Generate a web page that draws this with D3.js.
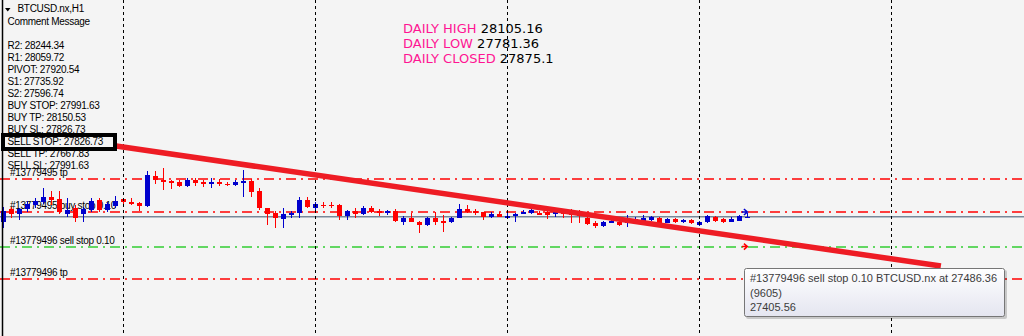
<!DOCTYPE html>
<html>
<head>
<meta charset="utf-8">
<script src="https://cdn.jsdelivr.net/npm/d3@7"></script>
<style>
    body { margin: 0; background: #f4f4f4; }
    svg { display: block; }
</style>
</head>
<body>
<svg width="1024" height="336"></svg>
<script>
// H1 candles (bar 0 = leftmost)
var opens  = [27806,27975,27910,27975,28027,28066,28131,28105,27910,27988,27910,27962,28092,27962,28014,28105,28066,28053,28014,28404,
              28352,28339,28326,28274,28352,28320,28313,28326,28304,28287,28320,28339,28209,27988,27923,27845,27897,27923,28092,27988,
              28031,28031,28027,27884,27949,27910,27988,27949,27923,27949,27806,27858,27806,27767,27858,27819,27806,27858,27975,27949,
              27936,27871,27910,27858,27884,27910,27923,27923,27936,27910,27949,27949,27936,27858,27793,27754,27793,27806,27793,27806,
              27819,27832,27858,27793,27845,27806,27832,27767,27806,27871,27845,27806,27819,27865];
var highs  = [28001,28001,27988,28079,28118,28248,28209,28209,28118,28027,28001,28118,28118,28066,28144,28118,28118,28066,28469,28469,
              28508,28346,28352,28378,28378,28352,28378,28365,28326,28352,28482,28365,28248,27994,27949,27988,27949,28131,28131,28066,
              28066,28066,28040,27962,27988,28014,28014,27975,27962,27975,27884,27923,27813,27871,27936,27897,27871,28040,28027,27975,
              27942,27936,27936,27962,27917,27962,28001,27949,27949,27949,27975,27975,27962,27910,27819,27819,27845,27832,27897,27871,
              27897,27878,27871,27858,27858,27845,27845,27819,27897,27884,27858,27871,27897,27923];
var lows   = [27728,27858,27832,27936,27988,28040,28027,27910,27871,27806,27806,27936,27936,27936,27988,28040,28027,27949,28001,28300,
              28222,28235,28261,28261,28274,28261,28248,28274,28274,28274,28131,28131,27962,27767,27728,27728,27858,27858,27988,27949,
              27988,27988,27832,27832,27858,27897,27923,27884,27897,27806,27767,27800,27663,27760,27767,27676,27793,27852,27923,27897,
              27832,27858,27865,27852,27806,27904,27910,27910,27845,27871,27858,27793,27793,27767,27728,27741,27787,27754,27741,27793,
              27806,27819,27787,27787,27793,27793,27780,27754,27793,27806,27793,27806,27819,27852];
var closes = [27949,27910,27975,28040,28079,28131,28092,27936,27962,27858,27975,28079,27962,28040,28079,28066,28046,28014,28417,28352,
              28332,28320,28274,28352,28313,28313,28326,28294,28296,28326,28339,28196,27988,27910,27858,27910,27923,28092,28001,28040,
              28023,28023,27884,27949,27910,27988,27936,27917,27949,27819,27858,27806,27767,27858,27806,27793,27858,27975,27936,27923,
              27871,27910,27871,27884,27910,27936,27962,27912,27897,27936,27910,27897,27884,27780,27754,27806,27819,27767,27819,27845,
              27858,27865,27793,27845,27806,27832,27793,27806,27884,27819,27806,27845,27884,27875];

// day separators (bar index where a new day starts)
var dayStarts = [15, 39, 63, 87, 111];

// order / price levels
var levelPrices = [28369, 27936, 27486.36, 27065];
var levelLabels = ['#13779495 tp', '#13779495 buy stop 0.10', '#13779496 sell stop 0.10', '#13779496 tp'];
var levelColors = ['#ff0000', '#ff0000', '#32cd32', '#ff0000'];
var bidPrice = 27875.1;

// order arrows on the last bars
var arrowBars = [92.7, 92.7];
var arrowPrices = [27936, 27486.36];
var arrowColors = ['#0000cd', '#ff0000'];

// trend line anchors
var trendBars = [14.1, 117.2];
var trendPrices = [28794, 27234];

// comment block on the left
var symbolTitle = 'BTCUSD.nx,H1';
var commentTitle = 'Comment Message';
var commentLines = ['R2: 28244.34', 'R1: 28059.72', 'PIVOT: 27920.54', 'S1: 27735.92', 'S2: 27596.74',
                    'BUY STOP: 27991.63', 'BUY TP: 28150.53', 'BUY SL: 27826.73', 'SELL STOP: 27826.73',
                    'SELL TP: 27667.83', 'SELL SL: 27991.63'];
var boxedLine = 'SELL STOP: 27826.73';

// daily info
var dailyLabels = ['DAILY HIGH', 'DAILY LOW', 'DAILY CLOSED'];
var dailyValues = ['28105.16', '27781.36', '27875.1'];

// tooltip
var tipLines = ['#13779496 sell stop 0.10 BTCUSD.nx at 27486.36', '(9605)', '27405.56'];

var svg = d3.select('svg');
var width = +svg.attr('width');
var height = +svg.attr('height');

var xScale = d3.scaleLinear().domain([0, 127]).range([3.3, 1019.3]);
var yScale = d3.scaleLinear().domain([26324, 30692]).range([height, 0]);

var bars = d3.range(opens.length).map(function(i) {
    return {i: i, o: opens[i], h: highs[i], l: lows[i], c: closes[i]};
});

svg.append('rect')
    .attr('width', width)
    .attr('height', height)
    .attr('fill', '#f4f4f4');

// daily info text
var dailyText = svg.append('g')
    .style('font-family', '"DejaVu Sans", sans-serif')
    .style('font-size', '13px');

dailyText.selectAll('text')
    .data(dailyLabels)
    .enter()
    .append('text')
    .attr('x', 403)
    .attr('y', function(d, i) { return 33 + i * 14.8; })
    .each(function(d, i) {
        var t = d3.select(this);
        t.append('tspan').attr('fill', '#ff1493').text(d + ' ');
        t.append('tspan').attr('fill', '#000').text(dailyValues[i]);
    });

// level lines
var levelG = svg.append('g');

levelG.selectAll('line.level')
    .data(levelPrices)
    .enter()
    .append('line')
    .attr('class', 'level')
    .attr('x1', 0)
    .attr('x2', width)
    .attr('y1', function(d) { return Math.round(yScale(d)); })
    .attr('y2', function(d) { return Math.round(yScale(d)); })
    .attr('stroke', function(d, i) { return levelColors[i]; })
    .attr('stroke-width', 1.5)
    .attr('stroke-dasharray', '10,5,2,5');

levelG.append('line')
    .attr('x1', 0)
    .attr('x2', width)
    .attr('y1', yScale(bidPrice))
    .attr('y2', yScale(bidPrice))
    .attr('stroke', '#778899')
    .attr('stroke-width', 1.5);

levelG.selectAll('text')
    .data(levelLabels)
    .enter()
    .append('text')
    .attr('x', 10)
    .attr('y', function(d, i) { return yScale(levelPrices[i]) - 3; })
    .style('font-family', '"Liberation Sans", Arial, sans-serif')
    .style('font-size', '10px')
    .style('letter-spacing', '-0.3px')
    .attr('fill', '#000')
    .text(function(d) { return d; });

// candles
var candleG = svg.append('g').attr('shape-rendering', 'crispEdges');

function candleColor(d) {
    return d.c >= d.o ? '#0000cd' : '#ff0000';
}

candleG.selectAll('line')
    .data(bars)
    .enter()
    .append('line')
    .attr('x1', function(d) { return Math.round(xScale(d.i)) + 0.5; })
    .attr('x2', function(d) { return Math.round(xScale(d.i)) + 0.5; })
    .attr('y1', function(d) { return yScale(d.h); })
    .attr('y2', function(d) { return yScale(d.l); })
    .attr('stroke', candleColor)
    .attr('stroke-width', 1);

candleG.selectAll('rect')
    .data(bars)
    .enter()
    .append('rect')
    .attr('x', function(d) { return Math.round(xScale(d.i)) - 2; })
    .attr('width', 5)
    .attr('y', function(d) { return yScale(Math.max(d.o, d.c)); })
    .attr('height', function(d) { return Math.max(1.5, Math.abs(yScale(d.o) - yScale(d.c))); })
    .attr('fill', candleColor);

// order arrows
svg.selectAll('path.arrow')
    .data(arrowBars)
    .enter()
    .append('path')
    .attr('class', 'arrow')
    .attr('d', function(d, i) {
        var x = xScale(d), y = yScale(arrowPrices[i]);
        return 'M' + (x - 3) + ',' + y + 'L' + (x + 2) + ',' + y +
               'M' + (x - 1) + ',' + (y - 3) + 'L' + (x + 2.5) + ',' + y + 'L' + (x - 1) + ',' + (y + 3);
    })
    .attr('fill', 'none')
    .attr('stroke', function(d, i) { return arrowColors[i]; })
    .attr('stroke-width', 1.5);

// day separators
svg.selectAll('line.sep')
    .data(dayStarts)
    .enter()
    .append('line')
    .attr('class', 'sep')
    .attr('x1', function(d) { return Math.round(xScale(d)) + 0.5; })
    .attr('x2', function(d) { return Math.round(xScale(d)) + 0.5; })
    .attr('y1', 0)
    .attr('y2', height)
    .attr('stroke', '#000')
    .attr('stroke-width', 1)
    .attr('stroke-dasharray', '3,3');

// trend line
svg.append('line')
    .attr('x1', xScale(trendBars[0]))
    .attr('y1', yScale(trendPrices[0]))
    .attr('x2', xScale(trendBars[1]))
    .attr('y2', yScale(trendPrices[1]))
    .attr('stroke', '#ee1c24')
    .attr('stroke-width', 5.5);

// left border
svg.append('line')
    .attr('x1', 2.5).attr('x2', 2.5)
    .attr('y1', 0).attr('y2', height)
    .attr('stroke', '#000')
    .attr('stroke-width', 1.5);

// comment block
var commentG = svg.append('g')
    .style('font-family', '"Liberation Sans", Arial, sans-serif')
    .style('font-size', '10px')
    .style('letter-spacing', '-0.3px')
    .attr('fill', '#000');

commentG.append('path')
    .attr('d', 'M5,8L10.5,8L7.75,11.5Z')
    .attr('fill', '#000');

commentG.append('text').attr('x', 17.5).attr('y', 12).text(symbolTitle);
commentG.append('text').attr('x', 7.5).attr('y', 25).text(commentTitle);

commentG.selectAll('text.line')
    .data(commentLines)
    .enter()
    .append('text')
    .attr('class', 'line')
    .attr('x', 7.5)
    .attr('y', function(d, i) { return 49 + i * 12; })
    .text(function(d) { return d; });

var boxIndex = commentLines.indexOf(boxedLine);
commentG.append('rect')
    .attr('x', 3)
    .attr('y', 49 + boxIndex * 12 - 10)
    .attr('width', 112)
    .attr('height', 14)
    .attr('fill', 'none')
    .attr('stroke', '#000')
    .attr('stroke-width', 4);

// tooltip
var defs = svg.append('defs');
var grad = defs.append('linearGradient')
    .attr('id', 'tipGrad')
    .attr('x1', 0).attr('y1', 0).attr('x2', 0).attr('y2', 1);
grad.append('stop').attr('offset', '0%').attr('stop-color', '#ffffff');
grad.append('stop').attr('offset', '100%').attr('stop-color', '#e4e5f0');

var tip = svg.append('g').attr('transform', 'translate(744,268)');

tip.append('rect')
    .attr('x', 2).attr('y', 2)
    .attr('width', 261).attr('height', 49)
    .attr('rx', 2)
    .attr('fill', '#000')
    .attr('opacity', 0.18);

tip.append('rect')
    .attr('x', 0.5).attr('y', 0.5)
    .attr('width', 260).attr('height', 48)
    .attr('rx', 2)
    .attr('fill', 'url(#tipGrad)')
    .attr('stroke', '#767676');

tip.selectAll('text')
    .data(tipLines)
    .enter()
    .append('text')
    .attr('x', 6)
    .attr('y', function(d, i) { return 14 + i * 14.5; })
    .style('font-family', '"Liberation Sans", Arial, sans-serif')
    .style('font-size', '11px')
    .attr('fill', '#3c3c3c')
    .text(function(d) { return d; });
</script>
</body>
</html>
